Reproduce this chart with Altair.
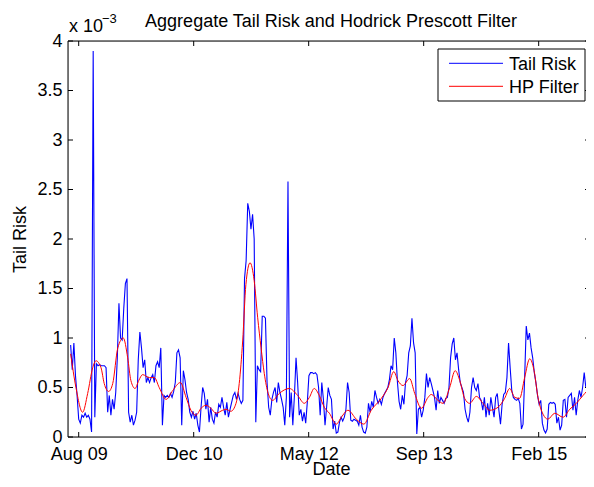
import altair as alt
import pandas as pd

# ---------------- data (tail risk in units of 1e-3) ----------------
BASE_DATE = "2009-08-15"          # MATLAB datenum 734000, first x tick
TAIL_START = "2009-07-11"         # first weekly observation
tail_risk = [
    0.93, 0.68, 0.95, 0.62, 0.42, 0.18, 0.14, 0.22, 0.20, 0.24,
    0.20, 0.22, 0.18, 0.05, 3.90, 0.20, 0.74, 0.72, 0.73, 0.72,
    0.72, 0.72, 0.70, 0.25, 0.42, 0.22, 0.38, 0.28, 0.45, 0.80,
    1.35, 1.00, 0.98, 1.30, 1.55, 1.60, 0.25, 0.15, 0.22, 0.12,
    0.17, 0.25, 0.78, 1.06, 0.90, 0.70, 0.78, 0.55, 0.60, 0.55,
    0.60, 0.63, 0.55, 0.72, 0.76, 0.70, 0.90, 0.12, 0.42, 0.40,
    0.42, 0.40, 0.44, 0.40, 0.46, 0.55, 0.85, 0.88, 0.80, 0.12,
    0.67, 0.58, 0.45, 0.38, 0.25, 0.20, 0.26, 0.18, 0.24, 0.12,
    0.05, 0.30, 0.50, 0.44, 0.28, 0.38, 0.15, 0.30, 0.18, 0.14,
    0.25, 0.20, 0.33, 0.30, 0.40, 0.30, 0.22, 0.35, 0.20, 0.28,
    0.35, 0.42, 0.45, 0.38, 0.44, 0.38, 0.34, 0.37, 1.60, 1.78,
    2.36, 2.28, 2.10, 2.25, 2.00, 0.15, 0.72, 0.68, 0.66, 1.22,
    1.22, 1.20, 0.55, 0.30, 0.22, 0.38, 0.45, 0.50, 0.35, 0.55,
    0.45, 0.38, 0.30, 0.12, 0.40, 2.58, 0.20, 0.45, 0.12, 0.42,
    0.80, 0.55, 0.22, 0.28, 0.16, 0.25, 0.14, 0.35, 0.62, 0.65,
    0.65, 0.64, 0.65, 0.63, 0.50, 0.22, 0.55, 0.38, 0.12, 0.30,
    0.50, 0.42, 0.38, 0.08, 0.16, 0.04, 0.05, 0.15, 0.20, 0.16,
    0.20, 0.28, 0.55, 0.45, 0.17, 0.16, 0.18, 0.17, 0.16, 0.12,
    0.22, 0.10, 0.05, 0.04, 0.10, 0.34, 0.25, 0.36, 0.30, 0.47,
    0.40, 0.34, 0.38, 0.33, 0.40, 0.44, 0.47, 0.50, 0.58, 0.72,
    0.68, 1.00, 0.85, 0.55, 0.36, 0.28, 0.42, 0.33, 0.55, 0.62,
    0.85, 0.92, 1.20, 0.95, 0.85, 0.03, 0.28, 0.30, 0.20, 0.27,
    0.40, 0.64, 0.50, 0.60, 0.54, 0.47, 0.40, 0.27, 0.47, 0.34,
    0.40, 0.37, 0.34, 0.39, 0.40, 0.50, 0.80, 0.94, 1.00, 0.78,
    0.85, 0.68, 0.55, 0.50, 0.45, 0.28, 0.20, 0.15, 0.25, 0.50,
    0.60, 0.50, 0.47, 0.54, 0.40, 0.37, 0.27, 0.40, 0.20, 0.34,
    0.22, 0.40, 0.30, 0.20, 0.40, 0.44, 0.27, 0.13, 0.33, 0.43,
    0.45, 0.60, 0.95, 0.70, 0.47, 0.40, 0.38, 0.37, 0.39, 0.34,
    0.08, 0.13, 0.60, 1.12, 0.98, 1.05, 0.90, 0.80, 0.65, 0.55,
    0.42, 0.33, 0.37, 0.14, 0.07, 0.04, 0.08, 0.33, 0.35, 0.34,
    0.35, 0.33, 0.14, 0.20, 0.07, 0.12, 0.37, 0.38, 0.20, 0.40,
    0.42, 0.44, 0.27, 0.40, 0.22, 0.37, 0.47, 0.40, 0.50, 0.65,
    0.50, 0.50, 0.26, 0.50, 0.48,
]

# HP filter trend: days after BASE_DATE and value (1e-3)
hp_days = [
    -35, -12, 17, 39, 61, 75, 97, 111, 130, 148, 170, 194, 213, 227, 245,
    261, 278, 307, 329, 350, 380, 409, 442, 467, 488, 510, 532, 553, 575,
    597, 626, 640, 662, 684, 698, 713, 727, 745, 763, 778, 793, 807, 824,
    843, 872, 916, 952, 981, 1003, 1024, 1046, 1068, 1090, 1120, 1142,
    1171, 1207, 1240, 1272, 1316, 1345, 1370, 1388, 1410, 1439, 1461,
    1490, 1519, 1533, 1562, 1584, 1613, 1637, 1657, 1678, 1700, 1729,
    1758, 1787, 1823, 1852, 1874, 1896, 1917, 1939, 1961, 1980, 1997,
    2019, 2040, 2070, 2106, 2135, 2164, 2193, 2222, 2236,
]
hp_values = [
    0.84, 0.50, 0.25, 0.44, 0.70, 0.77, 0.70, 0.54, 0.46, 0.54, 0.90, 1.00,
    0.80, 0.57, 0.49, 0.57, 0.63, 0.60, 0.60, 0.50, 0.38, 0.47, 0.55, 0.40,
    0.27, 0.22, 0.29, 0.32, 0.29, 0.24, 0.27, 0.28, 0.26, 0.34, 0.54, 0.97,
    1.54, 1.76, 1.58, 1.21, 0.90, 0.64, 0.44, 0.37, 0.44, 0.49, 0.42, 0.34,
    0.40, 0.49, 0.42, 0.30, 0.24, 0.13, 0.20, 0.27, 0.18, 0.13, 0.27, 0.39,
    0.50, 0.66, 0.57, 0.52, 0.59, 0.44, 0.29, 0.40, 0.43, 0.37, 0.34, 0.50,
    0.67, 0.57, 0.39, 0.34, 0.41, 0.34, 0.27, 0.30, 0.39, 0.49, 0.40, 0.39,
    0.60, 0.79, 0.67, 0.40, 0.23, 0.18, 0.24, 0.20, 0.28, 0.34, 0.42, 0.48,
    0.46,
]

series_names = ["Tail Risk", "HP Filter"]
series_colors = ["#0000ff", "#ff0000"]
x_tick_dates = ["2009-08-15", "2010-12-28", "2012-05-11", "2013-09-23", "2015-02-05"]
y_ticks = [0, 0.5, 1, 1.5, 2, 2.5, 3, 3.5, 4]

FONT = "Liberation Sans"
FS = 18
W, H = 525, 396
CX = 263  # horizontal centre used by the title and the x-axis title

# ---------------- tables ----------------
tail_df = pd.DataFrame({
    "date": pd.date_range(TAIL_START, periods=len(tail_risk), freq="7D"),
    "value": tail_risk,
    "series": series_names[0],
})
hp_df = pd.DataFrame({
    "date": pd.Timestamp(BASE_DATE) + pd.to_timedelta(hp_days, unit="D"),
    "value": hp_values,
    "series": series_names[1],
})
xt_df = pd.DataFrame({"date": pd.to_datetime(x_tick_dates)})
yt_df = pd.DataFrame({"v": y_ticks})
one = alt.Data(values=[{"k": 0}])


def dt(s, h=0):
    t = pd.Timestamp(s)
    return alt.DateTime(year=t.year, month=t.month, date=t.day, hours=h)


x_scale = alt.Scale(type="time", domain=[dt("2009-06-29", 12), dt("2015-09-29", 5)])
y_scale = alt.Scale(domain=[0, 4], nice=False, zero=False)
c_scale = alt.Scale(domain=series_names, range=series_colors)

x_axis = alt.Axis(
    values=[dt(d) for d in x_tick_dates], format="%b %y", tickSize=0, domain=False,
    grid=False, labelFontSize=FS, labelFont=FONT, labelColor="black", labelPadding=8,
    title="Date", titleFontSize=FS, titleFont=FONT, titleFontWeight="normal",
    titleColor="black", titleX=CX, titleY=37, titleAlign="center",
    titleBaseline="alphabetic", labelFlush=False, labelOverlap=False,
)
y_axis = alt.Axis(
    values=y_ticks, format="~g", tickSize=0, domain=False, grid=False,
    labelFontSize=FS, labelFont=FONT, labelColor="black", labelPadding=6,
    title="Tail Risk", titleFontSize=FS, titleFont=FONT, titleFontWeight="normal",
    titleColor="black", titleX=-43, titleY=H / 2, titleAngle=270,
    titleAlign="center", titleBaseline="alphabetic", labelFlush=False,
    labelOverlap=False,
)

X = alt.X("date:T", scale=x_scale, axis=x_axis)
Y = alt.Y("value:Q", scale=y_scale, axis=y_axis)
C = alt.Color("series:N", scale=c_scale, legend=None)

blue = alt.Chart(tail_df).mark_line(strokeWidth=1.1).encode(x=X, y=Y, color=C)
red = alt.Chart(hp_df).mark_line(strokeWidth=1, interpolate="monotone").encode(x=X, y=Y, color=C)

# frame (top, bottom, left)
frame_top = alt.Chart(one).mark_rule(color="black", strokeWidth=1).encode(
    x=alt.value(0), x2=alt.value(W), y=alt.value(0))
frame_bottom = alt.Chart(one).mark_rule(color="black", strokeWidth=1).encode(
    x=alt.value(0), x2=alt.value(W), y=alt.value(H))
frame_left = alt.Chart(one).mark_rule(color="black", strokeWidth=1).encode(
    x=alt.value(0), y=alt.value(0), y2=alt.value(H))

# inward ticks on all four sides
XT = alt.X("date:T", scale=x_scale, axis=x_axis)
YT = alt.Y("v:Q", scale=y_scale, axis=y_axis)
xt_bottom = alt.Chart(xt_df).mark_rule(color="black", strokeWidth=1).encode(
    x=XT, y=alt.value(H - 5), y2=alt.value(H))
xt_top = alt.Chart(xt_df).mark_rule(color="black", strokeWidth=1).encode(
    x=XT, y=alt.value(0), y2=alt.value(5))
yt_left = alt.Chart(yt_df).mark_rule(color="black", strokeWidth=1).encode(
    y=YT, x=alt.value(0), x2=alt.value(5))
yt_right = alt.Chart(yt_df).mark_rule(color="black", strokeWidth=1).encode(
    y=YT, x=alt.value(W - 8), x2=alt.value(W - 3))

# legend box
leg_box = alt.Chart(one).mark_rect(fill="white", stroke="black", strokeWidth=1).encode(
    x=alt.value(370), x2=alt.value(517), y=alt.value(8), y2=alt.value(60))
leg_l1 = alt.Chart(one).mark_rule(color=series_colors[0], strokeWidth=1).encode(
    x=alt.value(381), x2=alt.value(435), y=alt.value(22.3))
leg_l2 = alt.Chart(one).mark_rule(color=series_colors[1], strokeWidth=1).encode(
    x=alt.value(381), x2=alt.value(435), y=alt.value(45.3))
leg_t1 = alt.Chart(one).mark_text(align="left", baseline="alphabetic", fontSize=FS,
                                  font=FONT, color="black", text=series_names[0]).encode(
    x=alt.value(441), y=alt.value(28.5))
leg_t2 = alt.Chart(one).mark_text(align="left", baseline="alphabetic", fontSize=FS,
                                  font=FONT, color="black", text=series_names[1]).encode(
    x=alt.value(441), y=alt.value(51.7))

# title and exponent
title_t = alt.Chart(one).mark_text(align="center", baseline="alphabetic", fontSize=FS,
                                   font=FONT, color="black",
                                   text="Aggregate Tail Risk and Hodrick Prescott Filter").encode(
    x=alt.value(CX), y=alt.value(-14.3))
exp_a = alt.Chart(one).mark_text(align="left", baseline="alphabetic", fontSize=FS,
                                 font=FONT, color="black", text="x 10").encode(
    x=alt.value(1), y=alt.value(-8.7))
exp_b = alt.Chart(one).mark_text(align="left", baseline="alphabetic", fontSize=13,
                                 font=FONT, color="black", text="\u22123").encode(
    x=alt.value(34), y=alt.value(-17.7))

chart = alt.layer(
    blue, red, frame_top, frame_bottom, frame_left,
    xt_bottom, xt_top, yt_left, yt_right,
    leg_box, leg_l1, leg_l2, leg_t1, leg_t2,
    title_t, exp_a, exp_b,
).properties(
    width=W, height=H,
    autosize=alt.AutoSizeParams(type="none"),
    padding={"left": 60, "top": 33, "right": -7, "bottom": 42},
    background="white",
).configure_view(stroke=None).configure(font=FONT)

chart.save("out.html", embed_options={"renderer": "svg", "actions": False})
